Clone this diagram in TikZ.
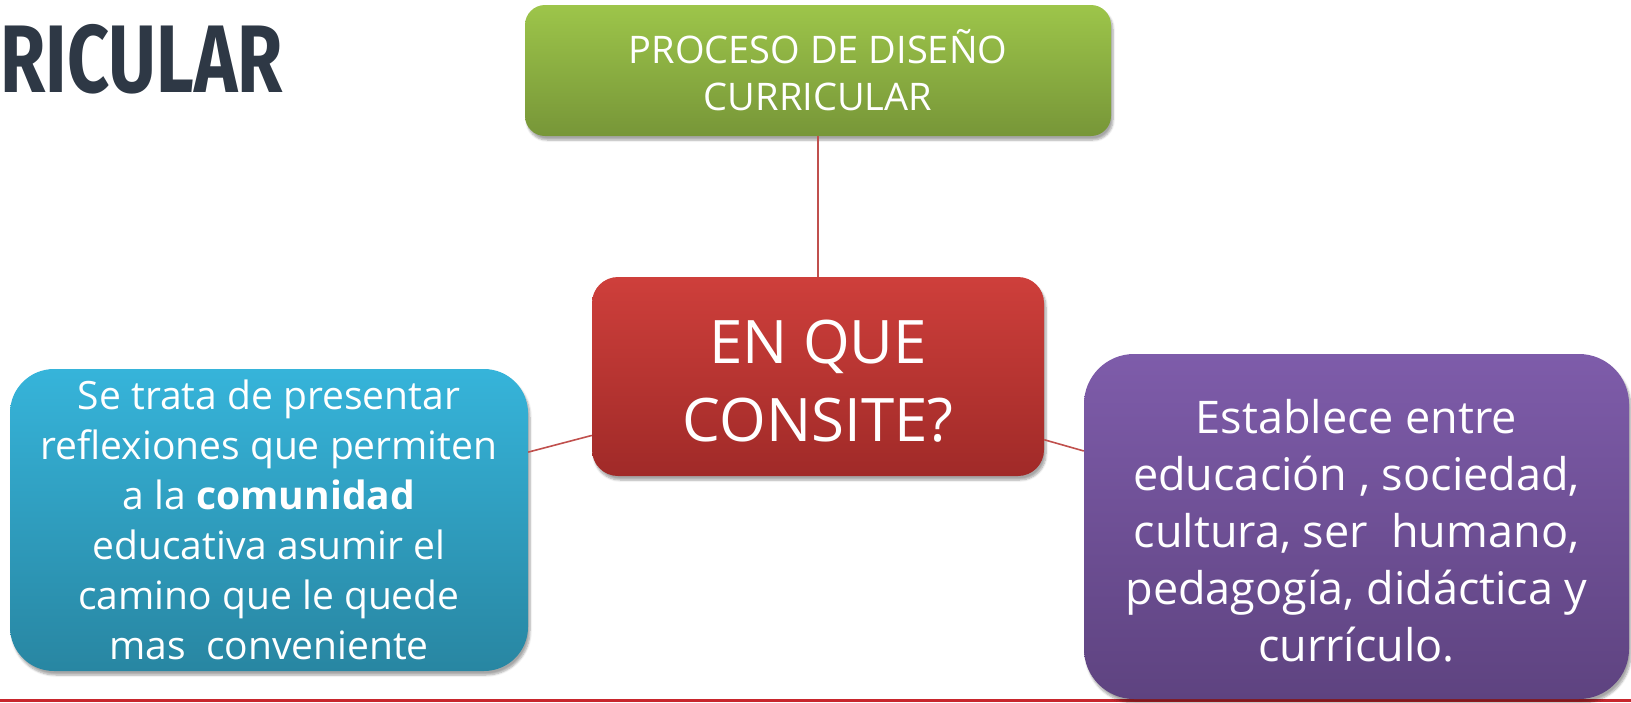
\documentclass[tikz,border=0pt]{standalone}
\usepackage{fontspec}
\setmainfont{Open Sans}
\newfontfamily\titlefont{Fira Sans}
\usetikzlibrary{shadows.blur}
\definecolor{titlecol}{HTML}{2E3845}
\definecolor{linkcol}{HTML}{C0504D}
\definecolor{basecol}{HTML}{C8262D}
\definecolor{gtop}{HTML}{9DC54A}
\definecolor{gbot}{HTML}{779638}
\definecolor{rtop}{HTML}{CE3F3B}
\definecolor{rbot}{HTML}{A02A28}
\definecolor{btop}{HTML}{36B4DA}
\definecolor{bbot}{HTML}{2886A2}
\definecolor{ptop}{HTML}{7E5CAA}
\definecolor{pbot}{HTML}{5E4380}
\begin{document}
\begin{tikzpicture}[x=1pt,y=-1pt,
  box/.style={rounded corners=#1, draw=none, inner sep=0pt,
    blur shadow={shadow xshift=2pt, shadow yshift=-4pt, shadow opacity=35, shadow blur steps=6}},
  txt/.style={text=white, align=center, inner sep=0pt},
  link/.style={draw=linkcol, line width=1.6pt}]
\useasboundingbox (0,0) rectangle (1631,702);
% bottom rule
\draw[basecol, line width=3pt] (0,700) coordinate (bl) -- (1631,700) coordinate (br);
% title fragment
\node[anchor=west, inner sep=0pt, text=titlecol] (title) at (0,59)
  {\scalebox{0.765}[1]{\titlefont\bfseries\fontsize{96}{96}\selectfont RICULAR}};
% boxes
\node[box=20, top color=gtop, bottom color=gbot, minimum width=586pt, minimum height=131pt] (g) at (818,70.5) {};
\node[box=26, top color=rtop, bottom color=rbot, minimum width=452pt, minimum height=199pt] (r) at (818,376.5) {};
\node[box=44, top color=btop, bottom color=bbot, minimum width=518pt, minimum height=302pt] (b) at (269,520) {};
\node[box=50, top color=ptop, bottom color=pbot, minimum width=545pt, minimum height=345pt] (p) at (1356.5,526.5) {};
% connectors
\draw[link] (g) -- (r);
\draw[link] (b) -- (r);
\draw[link] (r) -- (p);
% texts
\node[txt, font=\fontsize{38}{47}\selectfont] (gt) at (g) {PROCESO DE DISEÑO\\CURRICULAR};
\node[txt, font=\fontsize{60}{78}\selectfont] (rt) at (818,381) {EN QUE\\CONSITE?};
\node[txt, font=\fontsize{39}{50}\selectfont] (bt) at (269,520)
  {Se trata de presentar\\reflexiones que permiten\\a la \textbf{comunidad}\\educativa asumir el\\camino que le quede\\mas\ \ conveniente};
\node[txt, font=\fontsize{45}{57}\selectfont] (pt) at (1356.5,531)
  {Establece entre\\educación , sociedad,\\cultura, ser\ \ humano,\\pedagogía, didáctica y\\currículo.};
\end{tikzpicture}
\end{document}
